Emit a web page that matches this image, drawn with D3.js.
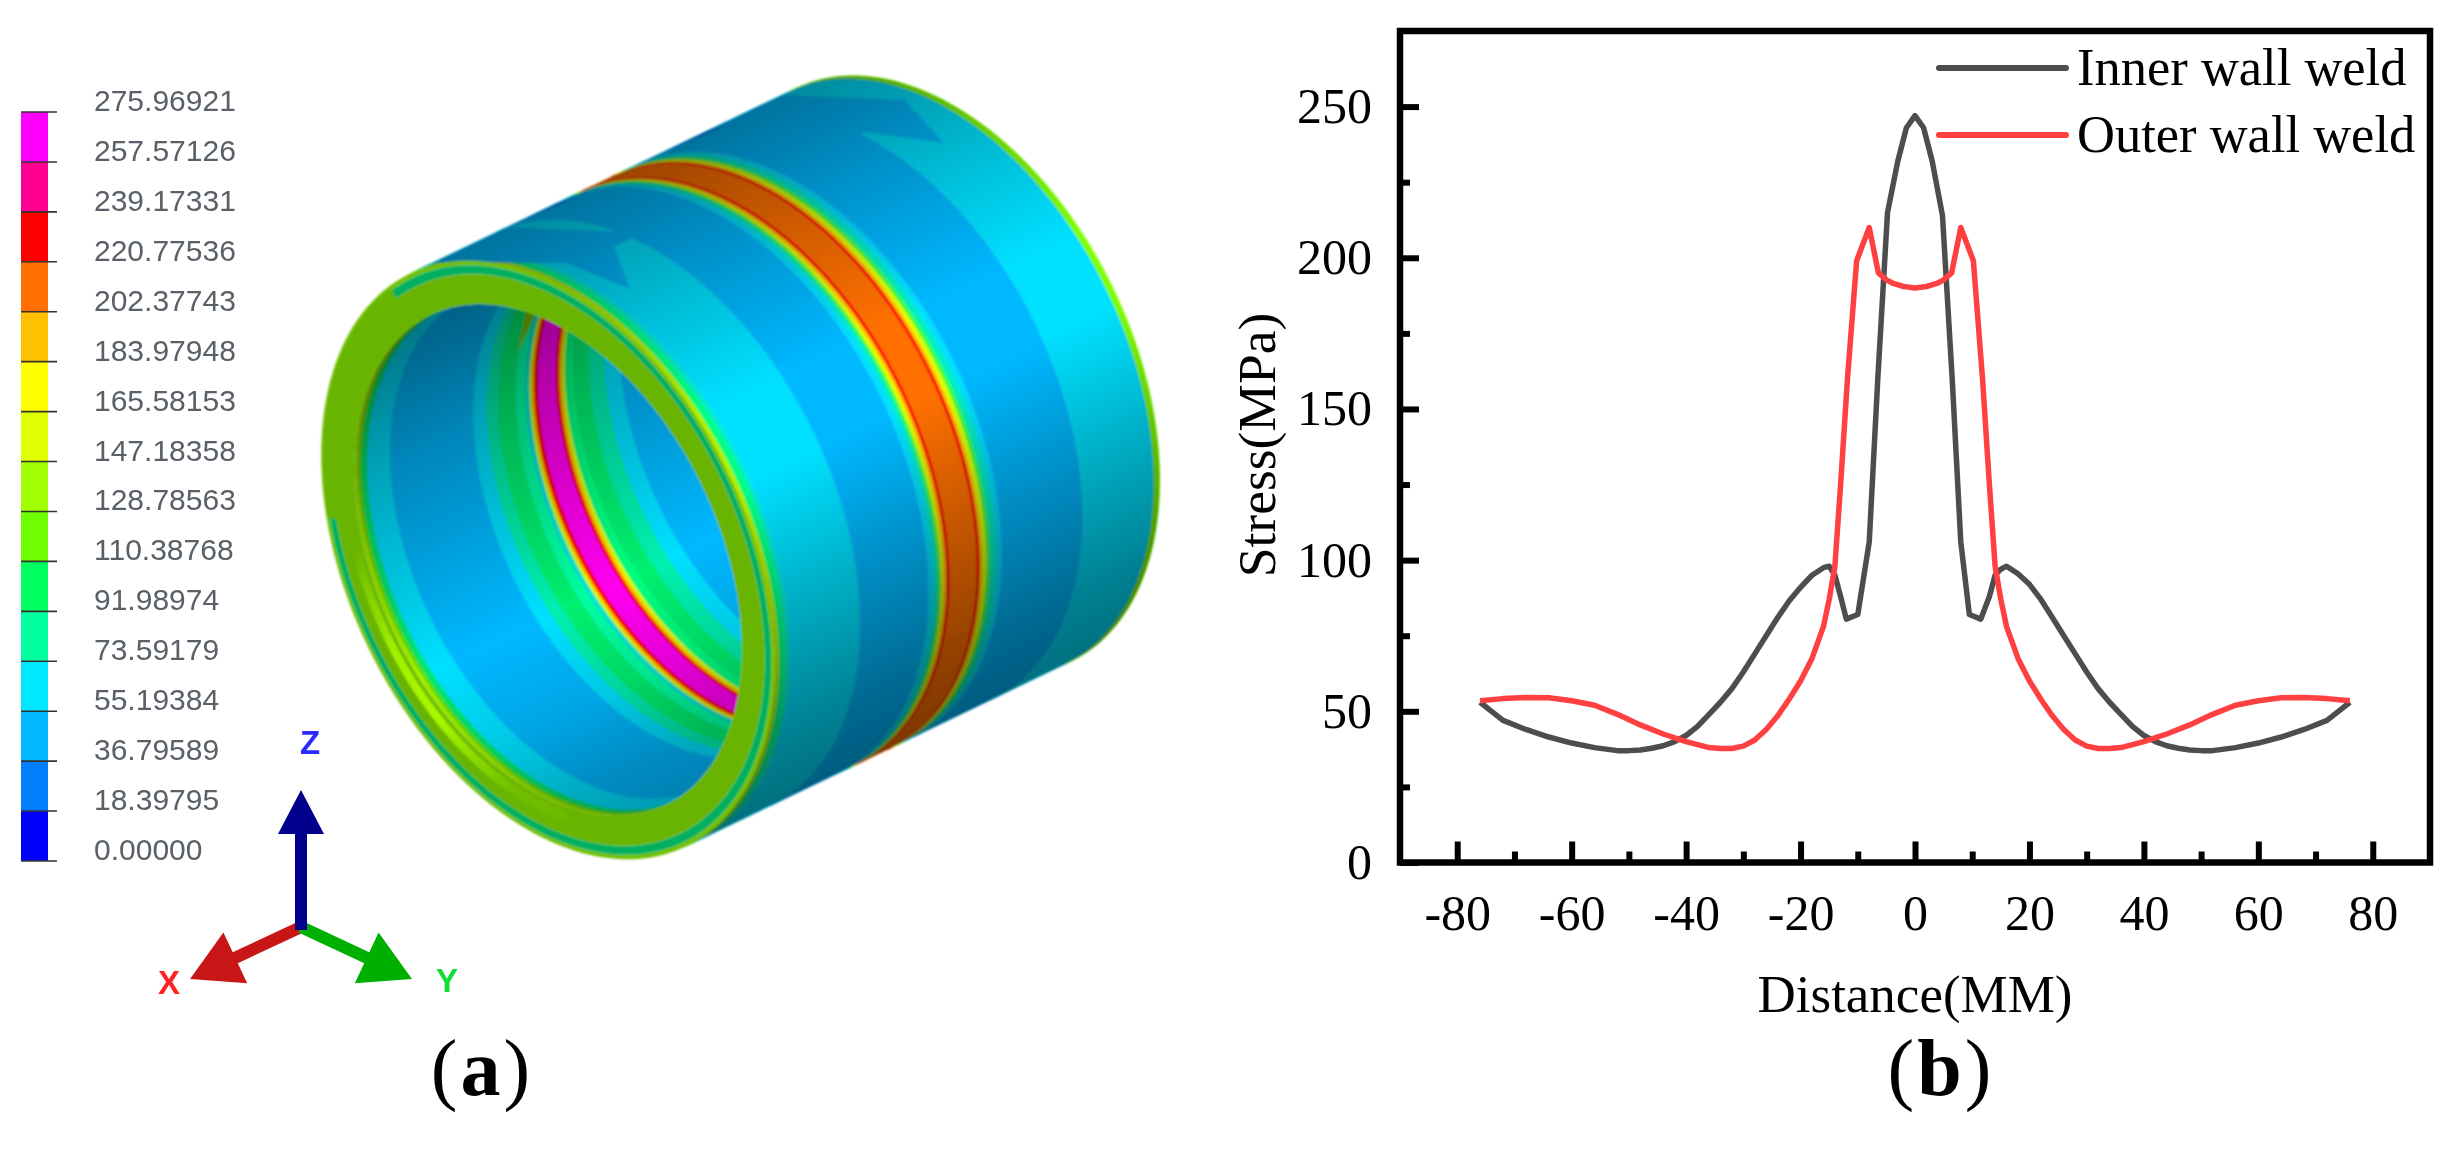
<!DOCTYPE html>
<html>
<head>
<meta charset="utf-8">
<script src="https://cdnjs.cloudflare.com/ajax/libs/d3/7.8.5/d3.min.js"></script>
<style>
  body { margin: 0; background: #fff; }
  svg { display: block; }
</style>
</head>
<body>
<svg id="fig" width="2457" height="1161"></svg>
<script>
// ---- panel b data
const innerX = [-76,-74,-72,-68,-64,-60,-56,-52,-50,-48,-46,-44,-42,-40,-38,-36,-34,-32,-30,-28,-26,-24,-22,-20,-18,-16,-15,-14,-13,-12,-10,-8,-6.5,-4.8,-3,-1.5,0,1.5,3,4.8,6.5,8,9.5,11.5,13,14,15,16,18,20,22,24,26,28,30,32,34,36,38,40,42,44,46,48,50,52,56,60,64,68,72,74,76];
const innerY = [53,50,47,44,41.5,39.5,38,37,37,37.2,37.8,38.6,40,42,45,49,53,57.5,63,69,75,81,86.5,91,95,97.5,98,95,88,80.5,82,106,160,215,232,243,247,243,232,214,160,106,82,80.5,88,95,97,98,95.5,92,87,81,75,69,63,57.5,53,49,45,42,40,38.6,37.8,37.2,37,37,38,39.5,41.5,44,47,50,53];
const outerX = [-76,-72,-68,-64,-60,-56,-52,-48,-44,-40,-36,-34,-32,-30,-28,-26,-24,-22,-20,-18,-16,-15,-14,-13,-11.8,-10.2,-8,-6.4,-5,-3.8,-2,0,2,3.8,5,6.4,8,10.2,11.8,13,14,15,16,18,20,22,24,26,28,30,32,34,36,40,44,48,52,56,60,64,68,72,76];
const outerY = [53.5,54.2,54.6,54.5,53.5,52,49,45.5,42.5,40,38,37.7,37.7,38.5,40.5,44,48.5,54,60,67.5,78,87,98,125,160,199,210,195,192.7,191.5,190.5,190,190.5,191.5,192.7,195,210,199,160,125,98,87,78,67.5,60,54,48.5,44,40.5,38.5,37.7,37.7,38,40,42.5,45.5,49,52,53.5,54.5,54.6,54.2,53.5];
const seriesNames = ["Inner wall weld", "Outer wall weld"];
const xTicks = [-80,-60,-40,-20,0,20,40,60,80];
const xMinor = [-70,-50,-30,-10,10,30,50,70];
const yTicks = [0,50,100,150,200,250];
const yMinor = [25,75,125,175,225];

// ---- panel a legend
const levelLabels = ["275.96921","257.57126","239.17331","220.77536","202.37743","183.97948","165.58153","147.18358","128.78563","110.38768","91.98974","73.59179","55.19384","36.79589","18.39795","0.00000"];
const levelColors = ["#ff00ff","#ff0090","#ff0000","#ff7000","#ffc000","#ffff00","#e0ff00","#a0ff00","#70ff00","#00ff60","#00ffa0","#00e8ff","#00b8ff","#0080ff","#0000ff"];

// ---- panel a contour bands along the tube axis (0 front, 1 rear)
const outerStops = [0,.012,.028,.04,.222,.40,.415,.425,.432,.44,.447,.455,.525,.533,.54,.55,.56,.575,.59,.80,.985,1];
const outerColors = ["#b0f000","#00ff80","#00f0c8","#00e0ff","#00b8ff","#00e0ff","#00f0c0","#40ff40","#e0ff00","#ffc000","#ff0000","#ff7000","#ff0000","#ffc000","#e0ff00","#40ff40","#00f0c0","#00e0ff","#00b8ff","#00e0ff","#80ff00"];
const boreStops = [0,.012,.02,.035,.094,.31,.345,.375,.42,.444,.456,.462,.468,.478,.525,.533,.54,.548,.57,.61,.65,.69,1.0];
const boreColors = ["#a0f000","#60e000","#00e870","#00e0ff","#00b8ff","#00e0ff","#00f0b0","#00f070","#00ffa0","#00e8d0","#e0ff00","#ffc000","#ff0000","#ff00f0","#ff0000","#ffc000","#e0ff00","#00ff80","#00f070","#00f0b0","#00e0ff","#00b8ff"];
const rimStops = [1,.985,.955,.855];
const rimColors = ["#70c000","#00b060","#68b400"];

// ---- shading across the tube, -1 upper silhouette to 1 lower silhouette
const outerShadeAt = [-1,-.6,-.2,.05,.44,.81,1];
const outerShade = [.62,.82,1,1,.78,.58,.5];
const boreShadeAt = [-1,-.8,-.5,.16,.45,.72,1];
const boreShade = [.5,.55,.72,1,.9,.75,.65];
const glowAt = [-1,-.3,.05,.3,.6,1];
const glow = [0,0,.9,1,.15,0];

// ---- odd contour patches, as [axial, angle]
const outerPatches = [
  {color:"#00b8ff", pts:[[.175,143],[.095,131],[.07,145],[.06,180],[.25,180],[.25,143]]},
  {color:"#00b8ff", pts:[[.81,141.5],[.90,130],[.95,145],[.965,180],[.75,180],[.75,141]]},
  {color:"#0070e0", pts:[[.30,180],[.38,180],[.37,172]]},
  {color:"#0070e0", pts:[[.66,180],[.77,180],[.75,172]]}
];
const borePatches = [{color:"#80c800", pts:[[.416,222.7],[.36,195],[.426,195]]}];

const svg = d3.select("#fig");
const defs = svg.append("defs");
[["soft",0.9],["softer",0.45]].forEach(([id,s]) => {
  defs.append("filter").attr("id",id).attr("x","-5%").attr("y","-5%").attr("width","110%").attr("height","110%")
    .append("feGaussianBlur").attr("stdDeviation",s);
});

// ---------- colour legend
const levelY = d3.scaleLinear().domain([0,15]).range([112,861]);
const legendG = svg.append("g").attr("filter","url(#softer)");
legendG.selectAll("rect").data(levelColors).enter().append("rect")
  .attr("x",21).attr("width",27)
  .attr("y",(d,i)=>levelY(i)).attr("height",(d,i)=>levelY(i+1)-levelY(i))
  .attr("fill",d=>d);
legendG.selectAll("line").data(levelLabels).enter().append("line")
  .attr("x1",21).attr("x2",57)
  .attr("y1",(d,i)=>levelY(i)).attr("y2",(d,i)=>levelY(i))
  .attr("stroke","#333").attr("stroke-width",1.6);
legendG.selectAll("text").data(levelLabels).enter().append("text")
  .attr("x",94).attr("y",(d,i)=>levelY(i)-1)
  .attr("font-family","Liberation Sans").attr("font-size",30).attr("fill","#5a6068")
  .text(d=>d);

// ---------- the tube
const C0 = [548,560], AX = [385,-185], a = 318, b = 200;
const U = [.433,.901], V = [.901,-.433];
const P = (t,deg,r=1) => {
  const th = deg*Math.PI/180;
  return [
    C0[0]+t*AX[0]+r*(a*Math.cos(th)*U[0]+b*Math.sin(th)*V[0]),
    C0[1]+t*AX[1]+r*(a*Math.cos(th)*U[1]+b*Math.sin(th)*V[1])
  ];
};
const line = d3.line().curve(d3.curveLinear);
const closed = pts => line(pts)+"Z";
const strip = (t0,t1,from,to,r) => {
  const ang = d3.range(from,to+.01,2);
  return closed(ang.map(d=>P(t0,d,r)).concat(ang.slice().reverse().map(d=>P(t1,d,r))));
};
const ring = r => closed(d3.range(0,360,2).map(d=>P(0,d,r)));
const faceArc = (from,to,r0,r1) => {
  const ang = d3.range(from,to,2);
  return closed(ang.map(d=>P(0,d,r0)).concat(ang.slice().reverse().map(d=>P(0,d,r1))));
};
const shadeGrad = (id,stopsAt,values,color,asIs) => {
  const g = defs.append("linearGradient").attr("id",id).attr("gradientUnits","userSpaceOnUse")
    .attr("x1",C0[0]-a*U[0]).attr("y1",C0[1]-a*U[1]).attr("x2",C0[0]+a*U[0]).attr("y2",C0[1]+a*U[1]);
  stopsAt.forEach((s,i)=> g.append("stop").attr("offset",(s+1)/2).attr("stop-color",color)
    .attr("stop-opacity",asIs ? values[i] : 1-values[i]));
};
shadeGrad("outerShade",outerShadeAt,outerShade,"#000",false);
shadeGrad("boreShade",boreShadeAt,boreShade,"#000",false);
shadeGrad("rimGlow",glowAt,glow,"#a8f800",true);

defs.append("clipPath").attr("id","hole").append("path").attr("d",ring(.855));

const tube = svg.append("g").attr("filter","url(#soft)");

outerColors.forEach((c,i)=>{
  tube.append("path").attr("d",strip(outerStops[i],outerStops[i+1],0,180,1)).attr("fill",c).attr("stroke",c).attr("stroke-width",.6);
});
outerPatches.forEach(p=>{
  tube.append("path").attr("d",closed(p.pts.map(d=>P(d[0],d[1])))).attr("fill",p.color);
});
tube.append("path").attr("d",strip(0,1,0,180,1)).attr("fill","url(#outerShade)");

// rear rim end cap is edge-on, front face goes over the shell
const bore = tube.append("g").attr("clip-path","url(#hole)");
bore.append("path").attr("d",ring(.855)).attr("fill","#00b8ff");
boreColors.forEach((c,i)=>{
  bore.append("path").attr("d",strip(boreStops[i],boreStops[i+1],180,360,.855)).attr("fill",c).attr("stroke",c).attr("stroke-width",.6);
});
borePatches.forEach(p=>{
  bore.append("path").attr("d",closed(p.pts.map(d=>P(d[0],d[1],.855)))).attr("fill",p.color);
});
bore.append("path").attr("d",ring(.855)).attr("fill","url(#boreShade)");

rimColors.forEach((c,i)=>{
  tube.append("path").attr("fill-rule","evenodd").attr("d",ring(rimStops[i])+ring(rimStops[i+1])).attr("fill",c);
});
// no teal ring on the left part of the face
tube.append("path").attr("fill","#68b400").attr("d",faceArc(187,247,.99,.95));
// bright stripe on the lower left of the face
tube.append("path").attr("fill","url(#rimGlow)").attr("d",faceArc(200,330,.91,.87));

// ---------- coordinate triad
const arrow = (from,to,w,head,fill) => {
  const dx=to[0]-from[0], dy=to[1]-from[1], l=Math.hypot(dx,dy), ux=dx/l, uy=dy/l, nx=-uy, ny=ux;
  const bx=to[0]-ux*head[0], by=to[1]-uy*head[0];
  const pts=[
    [from[0]+nx*w/2,from[1]+ny*w/2],[bx+nx*w/2,by+ny*w/2],[bx+nx*head[1],by+ny*head[1]],to,
    [bx-nx*head[1],by-ny*head[1]],[bx-nx*w/2,by-ny*w/2],[from[0]-nx*w/2,from[1]-ny*w/2]
  ];
  triad.append("path").attr("d",closed(pts)).attr("fill",fill);
};
const triad = svg.append("g").attr("filter","url(#softer)");
arrow([301,927],[190,979],12,[50,28],"#c81818");
arrow([301,927],[412,979],12,[50,28],"#00b000");
arrow([301,930],[301,790],12,[44,23],"#00008c");
[["Z",310,754,"#2a2aff"],["X",169,994,"#ff2020"],["Y",447,992,"#10e030"]].forEach(d=>{
  triad.append("text").attr("x",d[1]).attr("y",d[2]).attr("text-anchor","middle")
    .attr("font-family","Liberation Sans").attr("font-weight","bold").attr("font-size",33).attr("fill",d[3]).text(d[0]);
});

// ---------- panel b
const x = d3.scaleLinear().domain([-90,90]).range([1400,2430]);
const y = d3.scaleLinear().domain([0,275]).range([862.5,31]);
const serif = "Liberation Serif";

const chart = svg.append("g").attr("filter","url(#softer)");

const xAxis = chart.append("g").attr("transform","translate(0,862.5)")
  .call(d3.axisBottom(x).tickValues(xTicks).tickSize(-21).tickPadding(32).tickSizeOuter(0).tickFormat(d=>String(d)));
const xAxisMinor = chart.append("g").attr("transform","translate(0,862.5)")
  .call(d3.axisBottom(x).tickValues(xMinor).tickSize(-11).tickSizeOuter(0).tickFormat(""));
const yAxis = chart.append("g").attr("transform","translate(1400,0)")
  .call(d3.axisLeft(y).tickValues(yTicks).tickSize(-19).tickPadding(28).tickSizeOuter(0).tickFormat(d=>String(d)));
const yAxisMinor = chart.append("g").attr("transform","translate(1400,0)")
  .call(d3.axisLeft(y).tickValues(yMinor).tickSize(-10).tickSizeOuter(0).tickFormat(""));
[xAxis,xAxisMinor,yAxis,yAxisMinor].forEach(g=>{
  g.select(".domain").remove();
  g.selectAll("line").attr("stroke","#000").attr("stroke-width",6);
  g.selectAll("text").attr("font-family",serif).attr("font-size",50).attr("fill","#000");
});

chart.append("rect").attr("x",x(-90)).attr("y",y(275)).attr("width",x(90)-x(-90)).attr("height",y(0)-y(275))
  .attr("fill","none").attr("stroke","#000").attr("stroke-width",6.5);

const curve = d3.line().x(d=>x(d[0])).y(d=>y(d[1]));
chart.append("path").attr("d",curve(d3.zip(innerX,innerY))).attr("fill","none").attr("stroke","#4d4d4d").attr("stroke-width",5.5).attr("stroke-linejoin","round");
chart.append("path").attr("d",curve(d3.zip(outerX,outerY))).attr("fill","none").attr("stroke","#ff4040").attr("stroke-width",5.5).attr("stroke-linejoin","round");

// legend
[["#4d4d4d",68],["#ff4040",135]].forEach((d,i)=>{
  chart.append("line").attr("x1",1939).attr("x2",2066).attr("y1",d[1]).attr("y2",d[1])
    .attr("stroke",d[0]).attr("stroke-width",6).attr("stroke-linecap","round");
  chart.append("text").attr("x",2077).attr("y",d[1]+17).attr("font-family",serif).attr("font-size",52.5).attr("fill","#000").text(seriesNames[i]);
});

chart.append("text").attr("x",1915).attr("y",1012).attr("text-anchor","middle")
  .attr("font-family",serif).attr("font-size",53).text("Distance(MM)");
chart.append("text").attr("transform","translate(1275,445) rotate(-90)").attr("text-anchor","middle")
  .attr("font-family",serif).attr("font-size",53.5).text("Stress(MPa)");

// ---------- sub-figure captions
[["a",482],["b",1941]].forEach(d=>{
  const t = svg.append("text").attr("x",d[1]).attr("y",1095).attr("text-anchor","middle")
    .attr("font-family",serif).attr("font-size",80).attr("letter-spacing",3).attr("fill","#000");
  t.append("tspan").text("(");
  t.append("tspan").attr("font-weight","bold").text(d[0]);
  t.append("tspan").text(")");
});
</script>
</body>
</html>
